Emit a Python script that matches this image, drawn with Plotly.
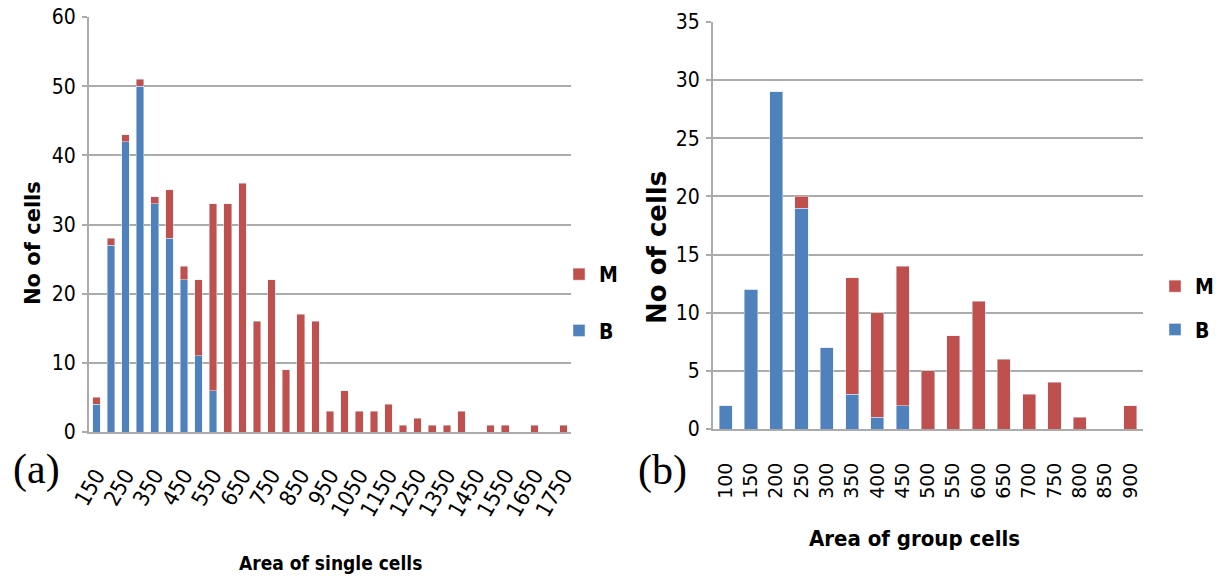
import plotly.graph_objects as go

# ---- data ----
single_area = [150, 200, 250, 300, 350, 400, 450, 500, 550, 600, 650, 700, 750, 800, 850,
               900, 950, 1000, 1050, 1100, 1150, 1200, 1250, 1300, 1350, 1400, 1450, 1500,
               1550, 1600, 1650, 1700, 1750]
single_B = [4, 27, 42, 50, 33, 28, 22, 11, 6, 0, 0, 0, 0, 0, 0,
            0, 0, 0, 0, 0, 0, 0, 0, 0, 0, 0, 0, 0,
            0, 0, 0, 0, 0]
single_M = [1, 1, 1, 1, 1, 7, 2, 11, 27, 33, 36, 16, 22, 9, 17,
            16, 3, 6, 3, 3, 4, 1, 2, 1, 1, 3, 0, 1,
            1, 0, 1, 0, 1]
single_ticks = [150, 250, 350, 450, 550, 650, 750, 850, 950, 1050, 1150, 1250, 1350,
                1450, 1550, 1650, 1750]

group_area = [100, 150, 200, 250, 300, 350, 400, 450, 500, 550, 600, 650, 700, 750, 800, 850, 900]
group_B = [2, 12, 29, 19, 7, 3, 1, 2, 0, 0, 0, 0, 0, 0, 0, 0, 0]
group_M = [0, 0, 0, 1, 0, 10, 9, 12, 5, 8, 11, 6, 3, 4, 1, 0, 2]

BLUE = "#4F81BD"
RED = "#C0504D"
GRID = "#ababab"
NARROW = "Liberation Sans Narrow, DejaVu Sans Condensed, sans-serif"

W, H = 1223, 584

def px_x(v):
    return v / W

def px_y(v):
    return 1 - v / H

s_cat = [str(v) for v in single_area]
g_cat = [str(v) for v in group_area]

fig = go.Figure()
fig.add_trace(go.Bar(x=s_cat, y=single_B, name="B", marker_color=BLUE, xaxis="x", yaxis="y",
                     legend="legend", legendgroup="b1", legendrank=2))
fig.add_trace(go.Bar(x=s_cat, y=single_M, name="M", marker_color=RED, xaxis="x", yaxis="y",
                     legend="legend", legendgroup="m1", legendrank=1))
fig.add_trace(go.Bar(x=g_cat, y=group_B, name="B", marker_color=BLUE, xaxis="x2", yaxis="y2",
                     legend="legend2", legendgroup="b2", legendrank=2))
fig.add_trace(go.Bar(x=g_cat, y=group_M, name="M", marker_color=RED, xaxis="x2", yaxis="y2",
                     legend="legend2", legendgroup="m2", legendrank=1))

tickfont = dict(family=NARROW, size=21, color="#000")

fig.update_layout(
    width=W, height=H,
    margin=dict(l=0, r=0, t=0, b=0, pad=0, autoexpand=False),
    paper_bgcolor="white", plot_bgcolor="white",
    barmode="stack",
    bargap=0.48,
    xaxis=dict(domain=[px_x(89), px_x(571)], anchor="y", type="category",
               tickmode="array", tickvals=[str(v) for v in single_ticks],
               ticktext=[str(v) for v in single_ticks],
               tickangle=-60, tickfont=dict(family=NARROW, size=22, color="#000"),
               ticklabelstandoff=20, automargin=False,
               showline=True, linecolor=GRID, linewidth=2, showgrid=False,
               ticks="", range=[-0.5, 32.5]),
    yaxis=dict(domain=[px_y(432), px_y(17)], anchor="x", range=[0, 60], dtick=10,
               showgrid=True, gridcolor=GRID, gridwidth=2, automargin=False,
               showline=True, linecolor=GRID, linewidth=2,
               ticks="outside", ticklen=5, tickcolor=GRID, tickwidth=2,
               tickfont=tickfont, ticklabelstandoff=2, zeroline=False),
    xaxis2=dict(domain=[px_x(713), px_x(1143)], anchor="y2", type="category",
                tickangle=-90, tickfont=dict(family="DejaVu Sans", size=19, color="#000"),
                ticklabelstandoff=24, automargin=False,
                showline=True, linecolor=GRID, linewidth=2, showgrid=False,
                ticks="", range=[-0.5, 16.5]),
    yaxis2=dict(domain=[px_y(429), px_y(22)], anchor="x2", range=[0, 35], dtick=5,
                showgrid=True, gridcolor=GRID, gridwidth=2, automargin=False,
                showline=True, linecolor=GRID, linewidth=2,
                ticks="outside", ticklen=5, tickcolor=GRID, tickwidth=2,
                tickfont=tickfont, ticklabelstandoff=2, zeroline=False),
    legend=dict(x=px_x(559), y=px_y(254), xanchor="left", yanchor="top",
                traceorder="grouped", tracegroupgap=26, bgcolor="rgba(0,0,0,0)",
                font=dict(family=NARROW, size=21, color="#000", weight="bold")),
    legend2=dict(x=px_x(1155), y=px_y(266), xanchor="left", yanchor="top",
                 traceorder="grouped", tracegroupgap=13, bgcolor="rgba(0,0,0,0)",
                 font=dict(family=NARROW, size=21, color="#000", weight="bold")),
    showlegend=True,
)

def ann(text, x, y, size, family, bold=False, angle=0):
    return dict(text=text, x=px_x(x), y=px_y(y), xref="paper", yref="paper",
                xanchor="center", yanchor="middle", textangle=angle, showarrow=False,
                font=dict(family=family, size=size, color="#000",
                          weight="bold" if bold else "normal"))

SERIF = "Liberation Serif, DejaVu Serif, serif"
annotations = [
    ann("No of cells", 33, 243, 21, "DejaVu Sans", True, -90),
    ann("No of cells", 657, 248, 26, "DejaVu Sans", True, -90),
    ann("Area of single cells", 330, 563, 19, NARROW, True),
    ann("Area of group cells", 915, 538, 22, NARROW, True),
    ann("(a)", 36, 469, 42, SERIF),
    ann("(b)", 663, 471, 42, SERIF),
]
fig.update_layout(annotations=annotations)

fig.write_html("out.html")
